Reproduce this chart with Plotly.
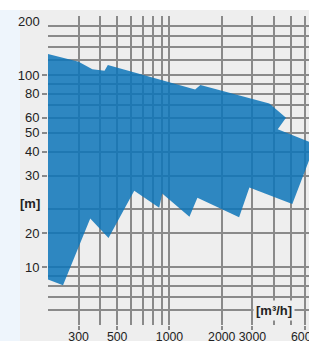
import math
import plotly.graph_objects as go

# Envelope of the operating range (flow in m³/h, head in m)
flow_top = [200, 300, 360, 423, 442, 1405, 1507, 3755, 4685, 4198, 6900]
head_top = [128.6, 117.3, 107.1, 105.3, 112.7, 84.2, 88.7, 71.2, 59.9, 52.3, 43.7]
flow_bottom = [5093, 2883, 2516, 1448, 1303, 908, 873, 627, 446, 350, 244, 200]
head_bottom = [21.3, 26.0, 18.2, 23.0, 18.3, 24.2, 20.4, 25.0, 14.2, 17.9, 8.06, 8.63]

x_tick_vals = [300, 500, 1000, 2000, 3000, 6000]
x_tick_text = ["300", "500", "1000", "2000", "3000", "6000"]
x_minor_vals = [400, 600, 700, 800, 900, 4000, 5000]

y_tick_vals = [10, 15, 30, 40, 50, 60, 80, 100]
y_tick_text = ["10", "20", "30", "40", "50", "60", "80", "100"]
y_minor_vals = [6, 7, 8, 9, 20, 70, 90, 120, 140, 160, 180]

x_range = [200, 6352]
y_range = [5, 203]

GRID = "#8a8a8a"
FONT = dict(family="Liberation Sans, Arial, sans-serif", size=13, color="#222222")
XFONT = dict(family="Liberation Sans, Arial, sans-serif", size=12.3, color="#222222")

fig = go.Figure()
fig.add_trace(go.Scatter(
    x=flow_top + flow_bottom,
    y=head_top + head_bottom,
    mode="lines",
    fill="toself",
    fillcolor="rgba(12,116,185,0.85)",
    line=dict(width=0),
    hoverinfo="skip",
))

W, H = 309, 341
L, R, T, B = 48, 0, 16, 16
pw, ph = W - L - R, H - T - B

def px_x(px):
    return (px - L) / pw

def px_y(py):
    return (H - B - py) / ph

fig.update_layout(
    width=W, height=H,
    margin=dict(l=L, r=R, t=T, b=B, autoexpand=False),
    paper_bgcolor="white",
    plot_bgcolor="#eeeeee",
    showlegend=False,
    font=FONT,
    shapes=[
        dict(type="rect", xref="paper", yref="paper", layer="below",
             x0=px_x(-5), x1=px_x(20), y0=px_y(350), y1=px_y(10),
             fillcolor="#eef5fc", line=dict(width=0)),
        dict(type="rect", xref="paper", yref="paper", layer="below",
             x0=px_x(20), x1=px_x(320), y0=px_y(350), y1=px_y(10),
             fillcolor="#eeeeee", line=dict(width=0)),
    ],
    annotations=[
        dict(text="200", xref="paper", yref="paper", x=px_x(42), y=px_y(22),
             xanchor="right", yanchor="middle", showarrow=False, font=FONT),
        dict(text="<b>[m]</b>", xref="paper", yref="paper", x=px_x(42), y=px_y(203),
             xanchor="right", yanchor="middle", showarrow=False, font=FONT),
        dict(text="<b>[m³/h]</b>", xref="paper", yref="paper", x=px_x(274), y=px_y(310),
             xanchor="center", yanchor="middle", showarrow=False, font=FONT,
             bgcolor="#eeeeee", borderpad=2),
    ],
)

fig.update_xaxes(
    type="log",
    range=[math.log10(x_range[0]), math.log10(x_range[1])],
    tickmode="array", tickvals=x_tick_vals, ticktext=x_tick_text,
    ticks="outside", ticklen=4, tickwidth=1.5, tickcolor=GRID,
    tickangle=0, ticklabelstandoff=-4, tickfont=XFONT,
    showgrid=True, gridcolor=GRID, gridwidth=1.5,
    minor=dict(tickmode="array", tickvals=x_minor_vals, showgrid=True,
               gridcolor=GRID, gridwidth=1.5, ticks=""),
    showline=False, zeroline=False, automargin=False,
    ticklabeloverflow="allow", fixedrange=True,
)
fig.update_yaxes(
    type="log",
    range=[math.log10(y_range[0]), math.log10(y_range[1])],
    tickmode="array", tickvals=y_tick_vals, ticktext=y_tick_text,
    ticks="outside", ticklen=5, tickwidth=1.5, tickcolor=GRID,
    showgrid=True, gridcolor=GRID, gridwidth=1.5,
    minor=dict(tickmode="array", tickvals=y_minor_vals, showgrid=True,
               gridcolor=GRID, gridwidth=1.5, ticks=""),
    showline=False, zeroline=False, automargin=False,
    ticklabeloverflow="allow", fixedrange=True,
)

fig.write_html(
    "out.html",
    config=dict(displayModeBar=False),
    post_script="document.body.style.margin='0';document.body.style.overflow='hidden';",
)
